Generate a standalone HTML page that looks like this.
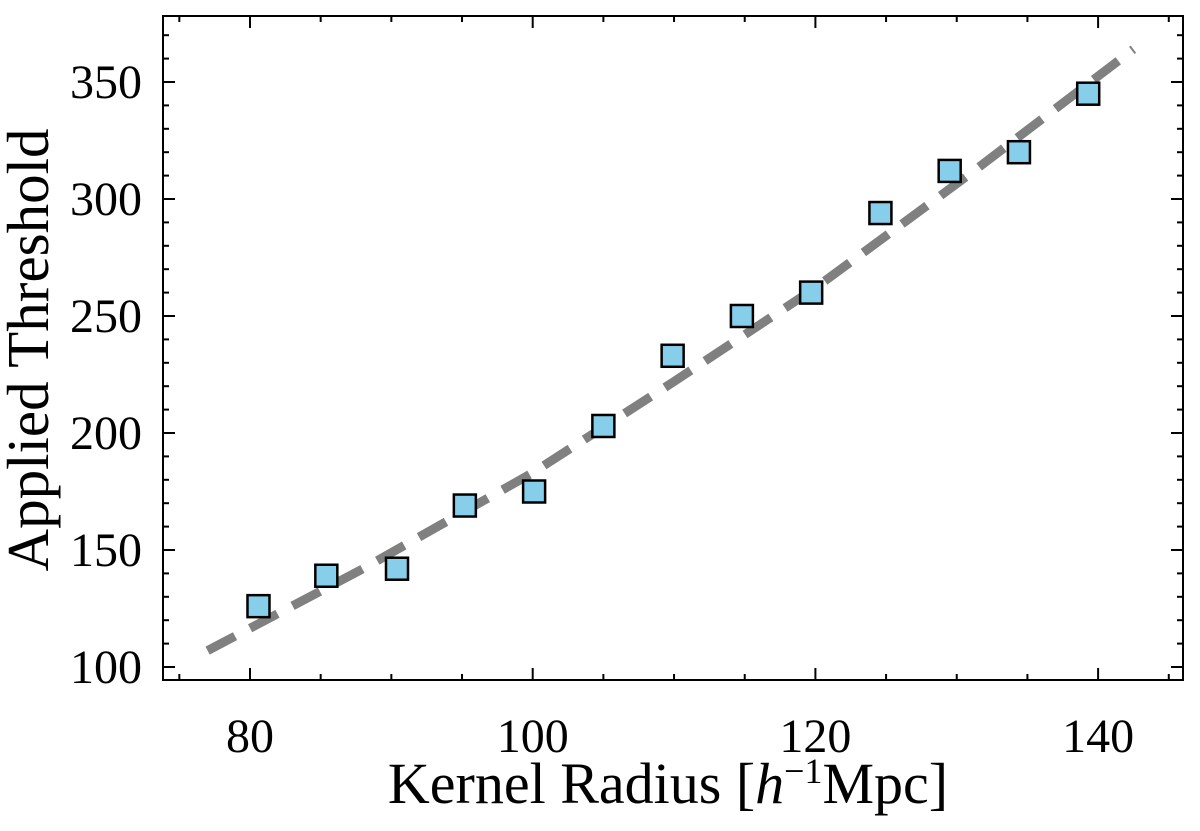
<!DOCTYPE html>
<html><head><meta charset="utf-8"><style>
body{margin:0;background:#fff}
svg text{font-family:"Liberation Serif",serif;fill:#000}
</style></head><body>
<svg id="chart" width="1200" height="826" viewBox="0 0 1200 826">
<rect x="163" y="16" width="1020" height="664" fill="none" stroke="#000" stroke-width="2"/>
<g id="ticks"></g>
<path id="fit" fill="none" stroke="#808080" stroke-width="9" stroke-dasharray="31,17"/>
<g id="pts"></g>
<text x="668" y="803" font-size="58" text-anchor="middle">Kernel Radius [<tspan font-style="italic">h</tspan><tspan baseline-shift="super" font-size="36">−1</tspan>Mpc]</text>
<text transform="translate(48,350) rotate(-90)" font-size="59" text-anchor="middle">Applied Threshold</text>
</svg>
<script>
const radii=[80.6,85.4,90.4,95.2,100.1,105,109.9,114.8,119.7,124.6,129.5,134.4,139.3];
const thresholds=[126,139,142,169,175,203,233,250,260,294,312,320,345];
const fitX=[77,88,100,110,120,131,142.5];
const fitY=[107,142,183,222,262,311,364];
const xTicks=[80,100,120,140];
const yTicks=[100,150,200,250,300,350];
const X=v=>250+(v-80)*282.7/20;
const Y=v=>667-(v-100)*117/50;
const ns="http://www.w3.org/2000/svg";
const tg=document.getElementById('ticks');
function line(x1,y1,x2,y2,name){const l=document.createElementNS(ns,'line');l.setAttribute('x1',x1);l.setAttribute('y1',y1);l.setAttribute('x2',x2);l.setAttribute('y2',y2);l.setAttribute('stroke','#000');l.setAttribute('stroke-width',2);


tg.appendChild(l);}
function text(x,y,s,anchor,name){const t=document.createElementNS(ns,'text');t.setAttribute('x',x);t.setAttribute('y',y);t.setAttribute('font-size',48);t.setAttribute('text-anchor',anchor);t.textContent=s;


tg.appendChild(t);}
for(let v=75;v<=145;v+=5){const x=X(v);const maj=v%20===0;const L=maj?12:6;line(x,680,x,680-L,'x-tick');line(x,16,x,16+L,'x-tick-top');}
for(let v=100;v<=370;v+=10){const y=Y(v);if(y<16||y>680)continue;const maj=v%50===0;const L=maj?12:6;line(163,y,163+L,y,'y-tick');line(1183,y,1183-L,y,'y-tick-right');}
xTicks.forEach(v=>text(X(v),752,v,'middle','x-tick-label'));
yTicks.forEach(v=>text(142,Y(v)+16,v,'end','y-tick-label'));
document.getElementById('fit').setAttribute('d',fitX.map((v,i)=>(i?'L':'M')+X(v)+','+Y(fitY[i])).join(''));
const pg=document.getElementById('pts');
radii.forEach((r,i)=>{const s=document.createElementNS(ns,'rect');s.setAttribute('x',X(r)-11);s.setAttribute('y',Y(thresholds[i])-11);s.setAttribute('width',22);s.setAttribute('height',22);s.setAttribute('fill','#87ceeb');s.setAttribute('stroke','#000');s.setAttribute('stroke-width',2.5);


pg.appendChild(s);});
</script>
</body></html>
